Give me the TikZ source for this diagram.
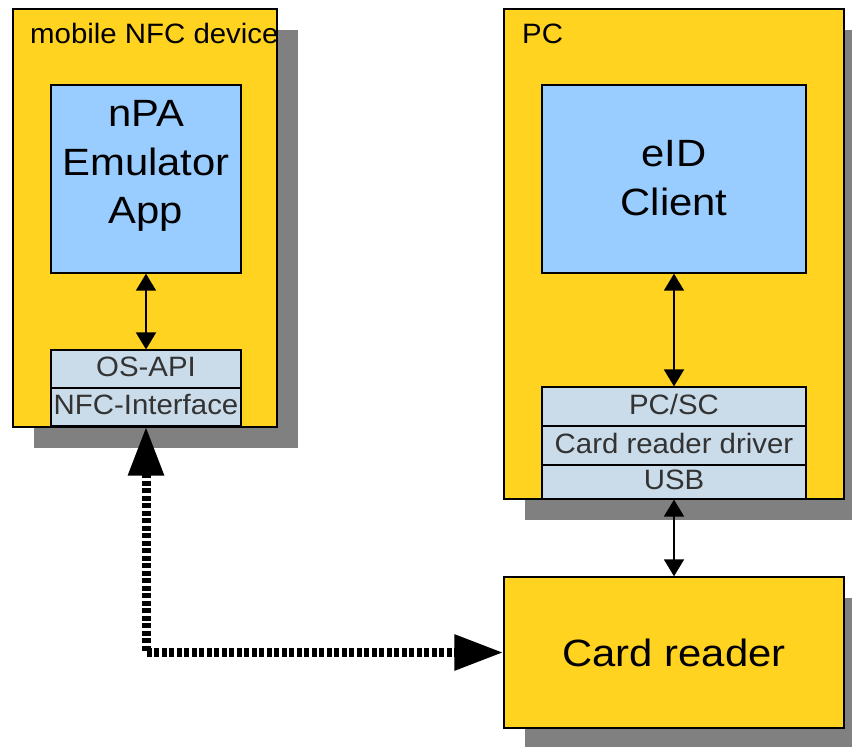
\documentclass[tikz,border=0pt]{standalone}
\usepackage{fontspec}
\setmainfont{Liberation Sans}
\newfontfamily\bigsans[FakeStretch=1.1]{Liberation Sans}
\newfontfamily\smallsans[FakeStretch=1.05]{Liberation Sans}
\usetikzlibrary{arrows.meta,shadows}
\definecolor{boxyellow}{HTML}{FFD320}
\definecolor{appblue}{HTML}{99CCFF}
\definecolor{layergray}{HTML}{CADCE9}
\definecolor{shadowgray}{HTML}{808080}
\definecolor{layertext}{HTML}{333333}
\begin{document}
\begin{tikzpicture}[x=1pt,y=-1pt,
  outerbox/.style={draw=black, line width=1.4pt, fill=boxyellow, inner sep=0pt,
    general shadow={shadow xshift=21pt, shadow yshift=-21pt, fill=shadowgray}},
  appbox/.style={draw=black, line width=1.4pt, fill=appblue, inner sep=0pt},
  apptext/.style={inner sep=0pt, align=center, font=\bigsans\fontsize{38}{48.5}\selectfont},
  layerbox/.style={draw=black, line width=1.2pt, fill=layergray, inner sep=0pt,
    minimum height=38pt, text=layertext, font=\smallsans\fontsize{28}{30}\selectfont,
    text height=20pt, text depth=5pt},
  titletext/.style={anchor=base west, inner sep=0pt, font=\smallsans\fontsize{28}{30}\selectfont},
  thinarrow/.style={line width=2pt, {Triangle[width=20pt,length=17pt]}-{Triangle[width=20pt,length=17pt]}},
  nfcarrow/.style={line width=9pt, dash pattern=on 5pt off 2.5pt,
    {Triangle[width=34pt,length=49pt]}-{Triangle[width=34pt,length=49pt]}}
]
\useasboundingbox (0,0) rectangle (852,747);
\clip (0,0) rectangle (852,747);
\fill[white] (0,0) rectangle (852,747);

% mobile NFC device
\node[outerbox, minimum width=264pt, minimum height=418pt] (mobile) at (145,218) {};
\node[titletext] (mobiletitle) at (30,43) {mobile NFC device};
\node[appbox, minimum width=190pt, minimum height=188pt] (npa) at (146,179) {};
\node[apptext] (npatext) at (146,166) {nPA\\Emulator\\App};
\node[layerbox, minimum width=190pt] (osapi) at (146,369) {OS-API};
\node[layerbox, minimum width=190pt] (nfc) at (146,407) {NFC-Interface};

% PC
\node[outerbox, minimum width=340pt, minimum height=490pt] (pc) at (674,254) {};
\node[titletext] (pctitle) at (522,43) {PC};
\node[appbox, minimum width=264pt, minimum height=188pt] (eid) at (674,179) {};
\node[apptext] (eidtext) at (674,178) {eID\\Client};
\node[layerbox, minimum width=264pt, minimum height=39pt] (pcsc) at (674,406.5) {PC/SC};
\node[layerbox, minimum width=264pt, minimum height=39pt] (driver) at (674,445.5) {Card reader driver};
\node[layerbox, minimum width=264pt, minimum height=34pt] (usb) at (674,482) {USB};

% Card reader
\node[outerbox, minimum width=340pt, minimum height=151pt,
  font=\bigsans\fontsize{38}{48}\selectfont] (card) at (674,652.5) {Card reader};

% connectors
\draw[thinarrow] (npa.south) -- (osapi.north);
\draw[thinarrow] (eid.south) -- (pcsc.north);
\draw[thinarrow] (usb.south) -- (card.north);
\draw[nfcarrow] (nfc.south) |- (card.west);
\end{tikzpicture}
\end{document}
